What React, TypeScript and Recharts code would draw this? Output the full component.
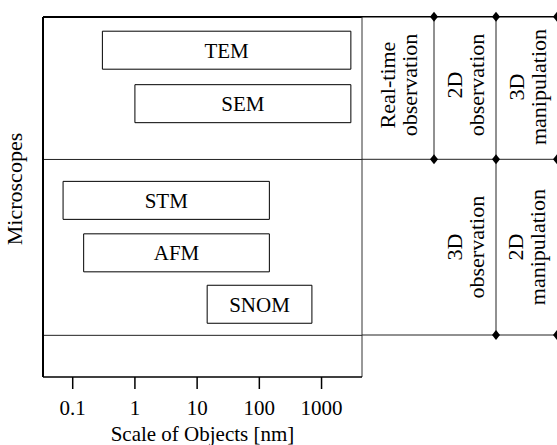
import React from 'react';
import {
  ComposedChart,
  Bar,
  XAxis,
  YAxis,
  ReferenceLine,
  LabelList,
  Label
} from 'recharts';

// microscopes and the object scale each one covers (nm)
const names = ['TEM', 'SEM', 'STM', 'AFM', 'SNOM'];
const rowPos = [0.64, 1.68, 3.56, 4.58, 5.58];
const minScale = [0.3, 1, 0.07, 0.15, 14.5];
const maxScale = [2960, 2960, 145, 145, 700];

const xTicks = [0.1, 1, 10, 100, 1000];
const xDomain = [0.0333, 4470];
const sectionLines = [2.77, 6.19];

const FONT = '"Liberation Serif", "Times New Roman", serif';
const FS = 21;
const FS_SIDE = 22;

const data = names.map((name, i) => ({
  name,
  pos: rowPos[i],
  range: [minScale[i], maxScale[i]]
}));

// rotated two-line cell text
const VText = ({ cx, cy, lines }: { cx: number; cy: number; lines: string[] }) => (
  <text
    transform={`rotate(-90, ${cx}, ${cy})`}
    x={cx}
    y={cy}
    textAnchor="middle"
    fontSize={FS_SIDE}
    fontFamily={FONT}
    fill="#000"
  >
    {lines.map((l, i) => (
      <tspan key={i} x={cx} y={cy - 3 + i * 22}>
        {l}
      </tspan>
    ))}
  </text>
);

const Diamond = ({ x, y }: { x: number; y: number }) => (
  <polygon points={`${x},${y - 5} ${x + 4},${y} ${x},${y + 5} ${x - 4},${y}`} fill="#000" />
);

const Table = () => {
  const top = 16.7, mid = 159.3, bot = 335;
  const c0 = 362, c1 = 434, c2 = 496, c3 = 557;
  return (
    <svg width={557} height={445} style={{ position: 'absolute', left: 0, top: 0, pointerEvents: 'none' }}>
      <line x1={c0} y1={top} x2={c3} y2={top} stroke="#000" strokeWidth={1.5} />
      <line x1={c0} y1={mid} x2={c3} y2={mid} stroke="#222" strokeWidth={1} />
      <line x1={c0} y1={bot} x2={c3} y2={bot} stroke="#222" strokeWidth={1} />
      <line x1={c1} y1={top} x2={c1} y2={mid} stroke="#222" strokeWidth={1} />
      <line x1={c2} y1={top} x2={c2} y2={bot} stroke="#222" strokeWidth={1} />
      {[
        [c1, top], [c2, top], [c3, top],
        [c1, mid], [c2, mid], [c3, mid],
        [c2, bot], [c3, bot]
      ].map(([x, y], i) => (
        <Diamond key={i} x={x} y={y} />
      ))}
      <VText cx={(c0 + c1) / 2} cy={85} lines={['Real-time', 'observation']} />
      <VText cx={(c1 + c2) / 2} cy={85} lines={['2D', 'observation']} />
      <VText cx={(c2 + c3) / 2} cy={87} lines={['3D', 'manipulation']} />
      <VText cx={(c1 + c2) / 2} cy={(mid + bot) / 2} lines={['3D', 'observation']} />
      <VText cx={(c2 + c3) / 2} cy={(mid + bot) / 2} lines={['2D', 'manipulation']} />
      <text
        transform="rotate(-90, 22, 189)"
        x={22}
        y={189}
        textAnchor="middle"
        fontSize={FS_SIDE}
        fontFamily={FONT}
        fill="#000"
      >
        Microscopes
      </text>
    </svg>
  );
};

export default function App() {
  return (
    <div style={{ position: 'absolute', left: 0, top: 0, width: 557, height: 445, background: '#fff' }}>
      <ComposedChart
        layout="vertical"
        width={557}
        height={445}
        data={data}
        margin={{ top: 17, right: 195, bottom: 0, left: 0 }}
        style={{ fontFamily: FONT }}
      >
        <XAxis
          type="number"
          scale="log"
          domain={xDomain}
          allowDataOverflow
          ticks={xTicks}
          height={68}
          tickSize={12}
          tickMargin={11}
          axisLine={{ stroke: '#000', strokeWidth: 1.5 }}
          tickLine={{ stroke: '#000', strokeWidth: 1.5 }}
          tick={{ fill: '#000', fontSize: FS, fontFamily: FONT }}
        >
          <Label
            value="Scale of Objects [nm]"
            position="insideBottom"
            offset={4}
            fill="#000"
            fontSize={FS}
            fontFamily={FONT}
          />
        </XAxis>
        <YAxis
          type="number"
          dataKey="pos"
          domain={[0, 7]}
          ticks={[0, 1, 2, 3, 4, 5, 6, 7]}
          width={43}
          tick={false}
          tickLine={false}
          axisLine={{ stroke: '#000', strokeWidth: 2 }}
        />
        <ReferenceLine y={0} stroke="#000" strokeWidth={2} />
        <ReferenceLine x={xDomain[1]} stroke="#333" strokeWidth={1} />
        {sectionLines.map(v => (
          <ReferenceLine key={v} y={v} stroke="#222" strokeWidth={1} />
        ))}
        <Bar
          dataKey="range"
          barSize={38}
          fill="#fff"
          stroke="#000"
          strokeWidth={1}
          isAnimationActive={false}
        >
          <LabelList dataKey="name" position="center" fill="#000" fontSize={FS} fontFamily={FONT} />
        </Bar>
      </ComposedChart>
      <Table />
    </div>
  );
}
